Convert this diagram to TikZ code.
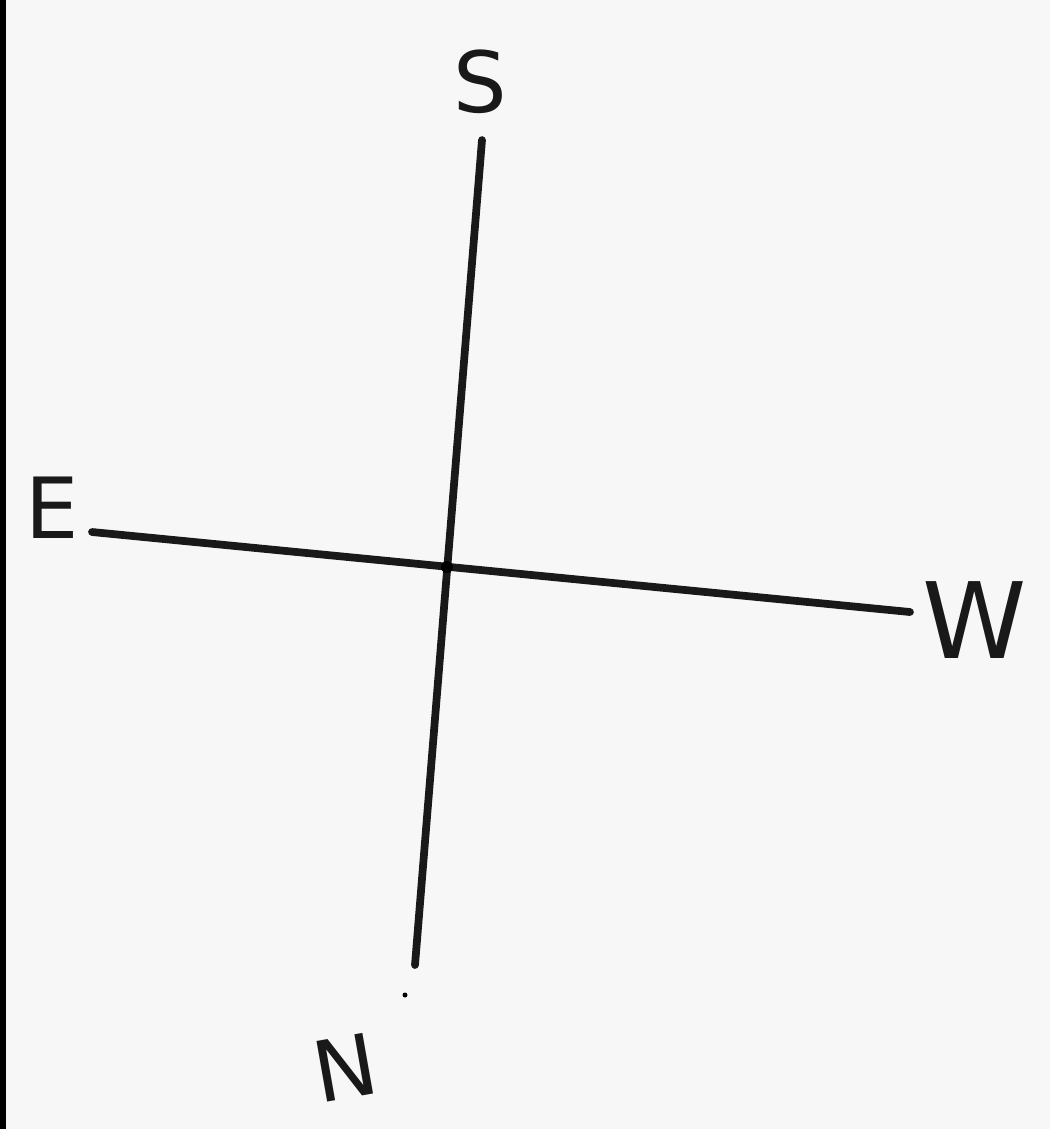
\documentclass[tikz,border=0pt]{standalone}
\usepackage{fontspec}
\setmainfont{DejaVu Sans}
\begin{document}
\begin{tikzpicture}[x=0.01cm,y=-0.01cm,
  axis/.style={line width=2.2pt,line cap=round,black!90},
  lbl/.style={font=\fontsize{24}{28}\selectfont,text=black!90,inner sep=0pt}]
\fill[black!3] (0,0) rectangle (1050,1129);
\useasboundingbox (0,0) rectangle (1050,1129);
\draw[line width=2.5pt] (2,0) -- (2,1129);
% line end points
\coordinate (top) at (482,140);
\coordinate (bot) at (415,965);
\coordinate (left) at (92,532);
\coordinate (right) at (910,612);
\coordinate (c) at (447,567);
\draw[axis] (top) -- (bot);
\draw[axis] (left) -- (right);
\fill[black] (c) circle (6);
\fill[black] (405,995) circle (2.5);
% labels
\node[lbl] (S) at (480,82) {S};
\node[lbl] (E) at (52,508) {E};
\node[lbl,font=\fontsize{30}{34}\selectfont] (W) at (975,620) {W};
\node[lbl,rotate=10] (N) at (345,1068) {N};
\end{tikzpicture}
\end{document}
